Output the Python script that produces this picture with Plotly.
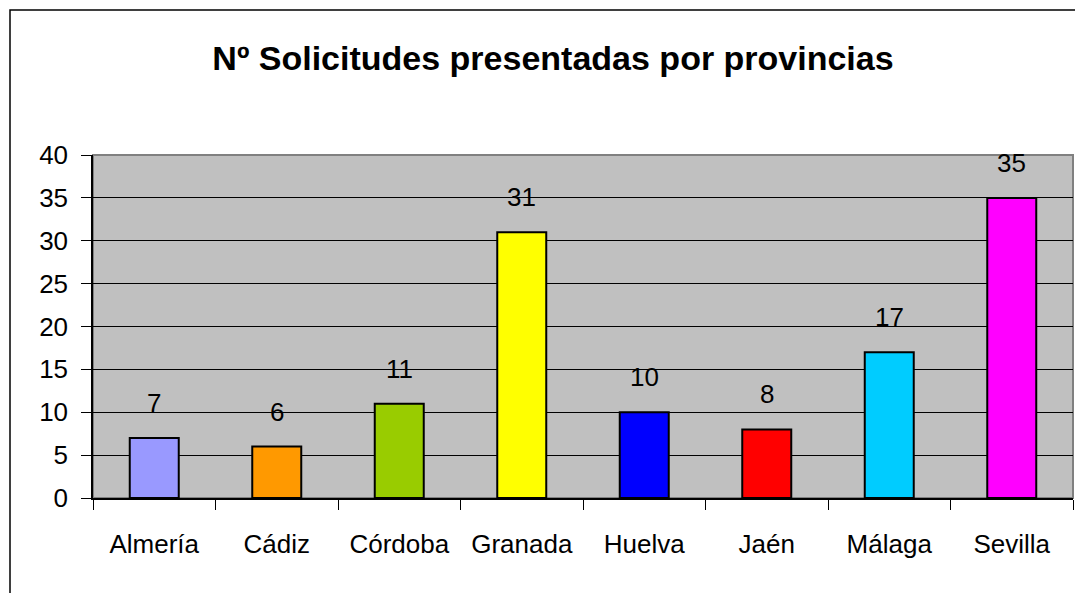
import plotly.graph_objects as go

provincias = ["Almería", "Cádiz", "Córdoba", "Granada", "Huelva", "Jaén", "Málaga", "Sevilla"]
solicitudes = [7, 6, 11, 31, 10, 8, 17, 35]
colores = ["#9999FF", "#FF9900", "#99CC00", "#FFFF00", "#0000FF", "#FF0000", "#00CCFF", "#FF00FF"]
y_ticks = [0, 5, 10, 15, 20, 25, 30, 35, 40]

FONT = "Liberation Sans, Arial"
W, H = 1075, 585
L, R, T, B = 85, 10, 147, 95
pw, ph = W - L - R, H - T - B

fig = go.Figure()
fig.add_trace(go.Bar(
    x=provincias, y=solicitudes,
    marker=dict(color=colores, line=dict(color="black", width=2)),
    width=0.4, hoverinfo="x+y",
))

for p, v in zip(provincias, solicitudes):
    fig.add_annotation(x=p, y=v, text=str(v), showarrow=False, yanchor="bottom",
                       yshift=18, font=dict(family=FONT, size=26, color="black"))

# plot-area border (grey)
fig.add_shape(type="rect", xref="paper", yref="paper", x0=0, x1=1, y0=0, y1=1,
              line=dict(color="#808080", width=2), layer="below")
# outer chart border
fig.add_shape(type="rect", xref="paper", yref="paper",
              x0=(2 - L) / pw, x1=1.05, y0=-0.5, y1=1 + (T - 2) / ph,
              line=dict(color="black", width=1.5))

fig.update_layout(
    width=W, height=H,
    margin=dict(l=L, r=R, t=T, b=B),
    paper_bgcolor="white", plot_bgcolor="#C0C0C0",
    showlegend=False,
    title=dict(text="<b>Nº Solicitudes presentadas por provincias</b>", x=545 / W, xanchor="center",
               xref="container", y=1 - 50 / H, yref="container", yanchor="middle",
               font=dict(family=FONT, size=34, color="black")),
    font=dict(family=FONT, size=26, color="black"),
)

fig.update_xaxes(showline=True, linecolor="black", linewidth=1.5, ticks="outside", ticklen=10,
                 tickcolor="black", tickson="boundaries", showgrid=False,
                 tickfont=dict(size=26), ticklabelstandoff=22)
fig.update_yaxes(range=[0, 40], tickvals=y_ticks, showline=True, linecolor="black", linewidth=1.5,
                 ticks="outside", ticklen=10, tickcolor="black", showgrid=True,
                 gridcolor="black", gridwidth=1, zeroline=False, tickfont=dict(size=26),
                 ticklabelstandoff=8)

fig.write_html("out.html")
